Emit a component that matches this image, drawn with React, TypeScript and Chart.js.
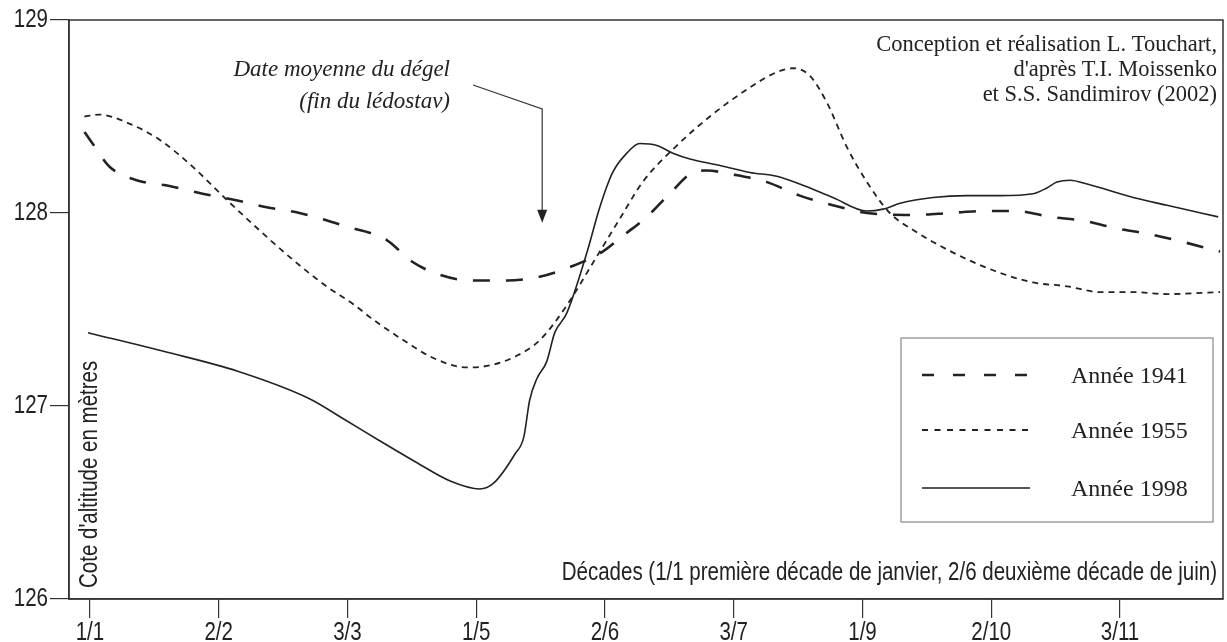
import React, { useEffect, useRef } from "react";
import { Chart, registerables } from "chart.js";

Chart.register(...registerables);

// ---- Data (decade index: 0 = 1/1, 4 = 2/2, ...) ----
const tickDecades = [0, 4, 8, 12, 16, 20, 24, 28, 32];
const tickLabels = ["1/1", "2/2", "3/3", "1/5", "2/6", "3/7", "1/9", "2/10", "3/11"];
const yTicks = [126, 127, 128, 129];

const decades1941 = [-0.17, 0.08, 0.61, 1.45, 2.47, 3.5, 4.43, 5.49, 6.51, 7.97, 9.22, 9.99, 10.86, 11.89, 12.95, 13.97, 14.91, 15.84, 16.62, 17.3, 18.01, 18.73, 19.16, 19.97, 21.03, 22.05, 23.08, 24.14, 25.57, 26.72, 27.74, 28.8, 29.83, 30.85, 31.91, 32.94, 33.96, 35.11];
const level1941 = [128.42, 128.36, 128.24, 128.17, 128.14, 128.1, 128.07, 128.03, 128.0, 127.93, 127.86, 127.75, 127.68, 127.65, 127.65, 127.67, 127.72, 127.79, 127.89, 127.98, 128.1, 128.21, 128.22, 128.2, 128.16, 128.09, 128.04, 128.0, 127.99, 128.0, 128.01, 128.01, 127.98, 127.96, 127.92, 127.89, 127.85, 127.8];

const decades1955 = [-0.17, 0.3, 1.13, 2.16, 3.19, 4.24, 5.27, 6.29, 7.35, 8.16, 8.78, 9.84, 10.65, 11.7, 12.42, 13.26, 13.97, 14.81, 15.62, 16.46, 17.17, 18.11, 19.26, 20.41, 21.34, 21.84, 22.37, 22.9, 23.52, 24.14, 24.85, 25.69, 26.19, 27.25, 28.27, 29.3, 30.36, 31.38, 32.41, 33.46, 35.11];
const level1955 = [128.5, 128.51, 128.47, 128.38, 128.24, 128.07, 127.91, 127.76, 127.62, 127.53, 127.45, 127.33, 127.25, 127.2, 127.21, 127.26, 127.34, 127.52, 127.74, 127.97, 128.16, 128.33, 128.5, 128.64, 128.73, 128.75, 128.71, 128.57, 128.34, 128.16, 128.0, 127.9, 127.85, 127.76, 127.69, 127.64, 127.62, 127.59, 127.59, 127.58, 127.59];

const decades1998 = [-0.06, 2.37, 4.59, 6.79, 7.91, 9.0, 10.12, 11.21, 12.11, 12.54, 13.2, 13.48, 13.66, 13.88, 14.19, 14.44, 14.81, 15.43, 15.84, 16.24, 16.68, 17.08, 17.61, 18.11, 18.64, 19.47, 20.5, 21.34, 22.05, 23.08, 24.14, 24.64, 25.17, 26.19, 27.25, 28.27, 29.3, 29.73, 30.04, 30.45, 30.98, 32.41, 33.46, 35.05];
const level1998 = [127.38, 127.28, 127.18, 127.04, 126.93, 126.82, 126.71, 126.61, 126.57, 126.6, 126.75, 126.84, 127.03, 127.14, 127.23, 127.38, 127.48, 127.79, 128.03, 128.21, 128.31, 128.36, 128.35, 128.31, 128.28, 128.25, 128.21, 128.19, 128.15, 128.08, 128.01, 128.02, 128.05, 128.08, 128.09, 128.09, 128.1, 128.13, 128.16, 128.17, 128.15, 128.08, 128.04, 127.98];

const seriesNames = ["Année 1941", "Année 1955", "Année 1998"];
const thawDecade = 14.05;
const annotationLines = ["Date moyenne du dégel", "(fin du lédostav)"];
const creditLines = ["Conception et réalisation L. Touchart,", "d'après T.I. Moissenko", "et S.S. Sandimirov (2002)"];
const xAxisTitle = "Décades (1/1 première décade de janvier, 2/6 deuxième décade de juin)";
const yAxisTitle = "Cote d'altitude en mètres";

const INK = "#222";
const SANS = '"Liberation Sans", Arial, sans-serif';
const SERIF = '"Liberation Serif", "Times New Roman", serif';
const NARROW = 0.82;

const zip = (xs: number[], ys: number[]) => xs.map((x, i) => ({ x, y: ys[i] }));

const styles = [
  { dash: [17, 16], width: 2.6, legendDash: [12, 19] },
  { dash: [6, 5], width: 1.8, legendDash: [6, 6.5] },
  { dash: [], width: 1.6, legendDash: [] },
];

function narrowText(ctx: any, text: string, x: number, y: number, align: string, baseline: string, rot = 0) {
  ctx.save();
  ctx.translate(x, y);
  if (rot) ctx.rotate(rot);
  ctx.scale(NARROW, 1);
  ctx.textAlign = align;
  ctx.textBaseline = baseline;
  ctx.fillText(text, 0, 0);
  ctx.restore();
}

const decorPlugin = {
  id: "decor",
  afterDraw(chart: any) {
    const { ctx, chartArea: a, scales } = chart;
    ctx.save();
    // frame
    ctx.strokeStyle = "#333";
    ctx.lineWidth = 1.5;
    ctx.strokeRect(a.left, a.top, a.right - a.left, a.bottom - a.top);

    // tick labels (narrow sans)
    ctx.fillStyle = INK;
    ctx.font = `25px ${SANS}`;
    tickDecades.forEach((v, i) => {
      narrowText(ctx, tickLabels[i], scales.x.getPixelForValue(v), 640, "center", "alphabetic");
    });
    yTicks.forEach((v) => {
      narrowText(ctx, String(v), 48, scales.y.getPixelForValue(v), "right", "middle");
    });

    // axis titles
    narrowText(ctx, xAxisTitle, 1217, 573, "right", "middle");
    narrowText(ctx, yAxisTitle, 90, 588, "left", "middle", -Math.PI / 2);

    // credits
    ctx.fillStyle = INK;
    ctx.font = `22.5px ${SERIF}`;
    ctx.textAlign = "right";
    ctx.textBaseline = "middle";
    creditLines.forEach((t, i) => ctx.fillText(t, 1217, 45 + i * 25));

    // annotation
    ctx.font = `italic 23px ${SERIF}`;
    ctx.fillText(annotationLines[0], 450, 70);
    ctx.fillText(annotationLines[1], 450, 102);

    // arrow
    const ax = scales.x.getPixelForValue(thawDecade);
    const tipY = scales.y.getPixelForValue(127.95);
    ctx.strokeStyle = "#333";
    ctx.lineWidth = 1.2;
    ctx.beginPath();
    ctx.moveTo(473, 85);
    ctx.lineTo(ax, 109);
    ctx.lineTo(ax, tipY - 10);
    ctx.stroke();
    ctx.fillStyle = "#222";
    ctx.beginPath();
    ctx.moveTo(ax, tipY);
    ctx.lineTo(ax - 5, tipY - 13);
    ctx.lineTo(ax + 5, tipY - 13);
    ctx.closePath();
    ctx.fill();

    // legend
    ctx.strokeStyle = "#888";
    ctx.lineWidth = 1.2;
    ctx.strokeRect(901, 338, 312, 184);
    const rows = [375, 430, 488];
    seriesNames.forEach((name, i) => {
      ctx.strokeStyle = INK;
      ctx.lineWidth = styles[i].width;
      ctx.setLineDash(styles[i].legendDash);
      ctx.beginPath();
      ctx.moveTo(922, rows[i]);
      ctx.lineTo(1030, rows[i]);
      ctx.stroke();
      ctx.setLineDash([]);
      ctx.fillStyle = INK;
      ctx.font = `24px ${SERIF}`;
      ctx.textAlign = "left";
      ctx.textBaseline = "middle";
      ctx.fillText(name, 1071, rows[i] + 2);
    });

    ctx.restore();
  },
};

export default function App() {
  const ref = useRef<HTMLCanvasElement | null>(null);
  useEffect(() => {
    document.body.style.margin = "0";
    const canvas = ref.current;
    if (!canvas) return;
    const datasets = [zip(decades1941, level1941), zip(decades1955, level1955), zip(decades1998, level1998)].map((d, i) => ({
      label: seriesNames[i],
      data: d,
      borderColor: INK,
      borderWidth: styles[i].width,
      borderDash: styles[i].dash,
      pointRadius: 0,
      fill: false,
      cubicInterpolationMode: "monotone" as const,
    }));
    const chart = new Chart(canvas, {
      type: "line",
      data: { datasets },
      plugins: [decorPlugin],
      options: {
        animation: false,
        responsive: false,
        maintainAspectRatio: false,
        layout: { padding: { top: 20, right: 4, left: 0, bottom: 0 } },
        plugins: { legend: { display: false }, tooltip: { enabled: false } },
        scales: {
          x: {
            type: "linear",
            min: -0.65,
            max: 35.2,
            afterBuildTicks: (s: any) => {
              s.ticks = tickDecades.map((v) => ({ value: v }));
            },
            afterFit: (s: any) => {
              s.height = 43;
            },
            ticks: { display: false, autoSkip: false, maxRotation: 0 },
            grid: { drawOnChartArea: false, drawTicks: true, tickLength: 19, color: "#333", lineWidth: 1.2 },
            border: { display: true, color: "#333", width: 1.5 },
          },
          y: {
            type: "linear",
            min: 126,
            max: 129,
            afterBuildTicks: (s: any) => {
              s.ticks = yTicks.map((v) => ({ value: v }));
            },
            afterFit: (s: any) => {
              s.width = 69;
            },
            ticks: { display: false },
            grid: { drawOnChartArea: false, drawTicks: true, tickLength: 19, color: "#333", lineWidth: 1.2 },
            border: { display: true, color: "#333", width: 1.5 },
          },
        },
      },
    });
    return () => chart.destroy();
  }, []);
  return <canvas ref={ref} width={1227} height={642} style={{ display: "block" }} />;
}
